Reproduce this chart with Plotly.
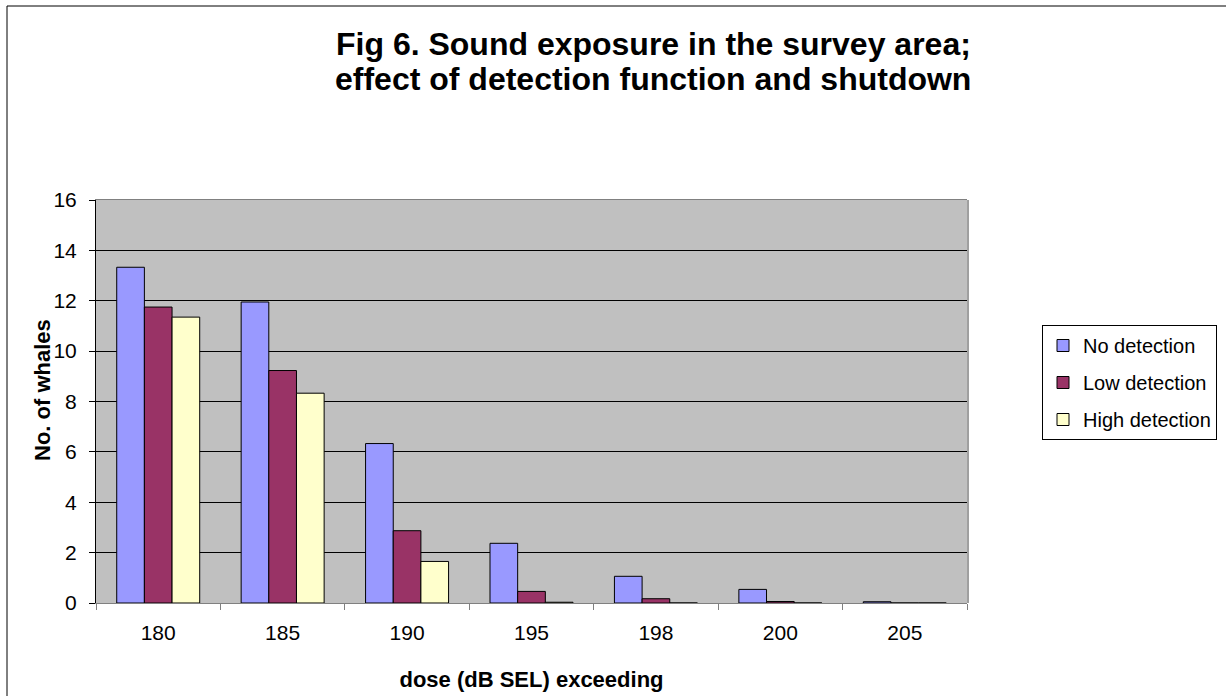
import plotly.graph_objects as go

categories = ["180", "185", "190", "195", "198", "200", "205"]
no_detection = [13.33, 11.95, 6.33, 2.37, 1.06, 0.54, 0.05]
low_detection = [11.75, 9.23, 2.87, 0.46, 0.17, 0.06, 0.0]
high_detection = [11.35, 8.33, 1.65, 0.03, 0.0, 0.0, 0.0]
series_names = ["No detection", "Low detection", "High detection"]
y_ticks = [0, 2, 4, 6, 8, 10, 12, 14, 16]

W, H = 1226, 696
L, R, T, B = 96, 967, 200, 603

def px_x(p):
    return (p - L) / (R - L)

def px_y(p):
    return (B - p) / (B - T)

colors = ["#9999FF", "#993366", "#FFFFCC"]
font = "Liberation Sans, Arial, sans-serif"

fig = go.Figure()
for name, vals, c in zip(series_names, [no_detection, low_detection, high_detection], colors):
    fig.add_trace(go.Bar(
        x=categories, y=vals, name=name, legendgroup=name,
        marker=dict(color=c, line=dict(color="#000000", width=1)),
    ))

fig.update_layout(
    width=W, height=H,
    margin=dict(l=L, r=W - R, t=T, b=H - B, autoexpand=False),
    paper_bgcolor="white",
    plot_bgcolor="#C0C0C0",
    barmode="group",
    bargap=0.333,
    bargroupgap=0,
    font=dict(family=font, color="black", size=20),
    showlegend=True,
    legend=dict(
        x=px_x(1042), y=px_y(325), xanchor="left", yanchor="top",
        bordercolor="black", borderwidth=1, bgcolor="white",
        font=dict(size=20, family=font), itemwidth=30,
        tracegroupgap=8,
    ),
    xaxis=dict(
        type="category", tickson="boundaries", ticks="outside", ticklen=6,
        tickcolor="#808080", showline=True, linecolor="#808080", mirror=True,
        showgrid=False, ticklabelstandoff=11, tickfont=dict(size=21),
        title=dict(text="<b>dose (dB SEL) exceeding</b>", font=dict(size=22), standoff=28),
        automargin=False,
    ),
    yaxis=dict(
        range=[0, 16], tickvals=y_ticks, ticks="outside", ticklen=6,
        tickcolor="black", showline=True, linecolor="black",
        showgrid=True, gridcolor="black", gridwidth=1, zeroline=False,
        ticklabelstandoff=8, tickfont=dict(size=21),
        automargin=False,
    ),
    shapes=[
        dict(type="rect", xref="paper", yref="paper",
             x0=px_x(968), x1=px_x(968), y0=0, y1=1,
             line=dict(color="#808080", width=1)),
        dict(type="rect", xref="paper", yref="paper",
             x0=px_x(7), x1=px_x(1260), y0=px_y(730), y1=px_y(6),
             line=dict(color="black", width=1), layer="below"),
    ],
    annotations=[
        dict(text="<b>Fig 6. Sound exposure in the survey area;</b>", xref="paper", yref="paper",
             x=px_x(973), y=px_y(44), xanchor="right", yanchor="middle",
             showarrow=False, font=dict(size=32, family=font)),
        dict(text="<b>effect of detection function and shutdown</b>", xref="paper", yref="paper",
             x=px_x(973), y=px_y(79), xanchor="right", yanchor="middle",
             showarrow=False, font=dict(size=32, family=font)),
        dict(text="<b>No. of whales</b>", xref="paper", yref="paper",
             x=px_x(42), y=px_y(390), xanchor="center", yanchor="middle",
             textangle=-90, showarrow=False, font=dict(size=22, family=font)),
    ],
)

fig.write_html("out.html")
